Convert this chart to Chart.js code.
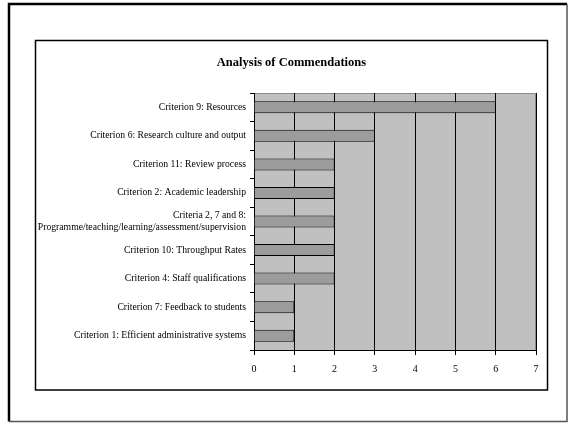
<!DOCTYPE html>
<html>
<head>
<meta charset="utf-8">
<script src="https://cdn.jsdelivr.net/npm/chart.js@4"></script>
<style>
  html, body { margin: 0; padding: 0; background: #ffffff; }
  #wrap { width: 568px; height: 424px; position: relative; }
</style>
</head>
<body>
<div id="wrap"><canvas id="c" width="568" height="424"></canvas></div>
<script>
// Commendations per criterion
const categories = [
  'Criterion 9: Resources',
  'Criterion 6: Research culture and output',
  'Criterion 11: Review process',
  'Criterion 2: Academic leadership',
  ['Criteria 2, 7 and 8:', 'Programme/teaching/learning/assessment/supervision'],
  'Criterion 10: Throughput Rates',
  'Criterion 4: Staff qualifications',
  'Criterion 7: Feedback to students',
  'Criterion 1: Efficient administrative systems'
];
const commendations = [6, 3, 2, 2, 2, 2, 2, 1, 1];
const xTicks = [0, 1, 2, 3, 4, 5, 6, 7];
const chartTitle = 'Analysis of Commendations';

const SERIF = '"Liberation Serif", "Times New Roman", serif';

// Page frames, chart heading and grey plot background
const framePlugin = {
  id: 'frames',
  beforeDraw(chart) {
    const ctx = chart.ctx;
    ctx.save();
    ctx.fillStyle = '#ffffff';
    ctx.fillRect(0, 0, chart.width, chart.height);
    // outer frame
    ctx.strokeStyle = '#000000';
    ctx.lineWidth = 2.5;
    ctx.beginPath();
    ctx.moveTo(9, 421.5);
    ctx.lineTo(9, 4);
    ctx.lineTo(567, 4);
    ctx.stroke();
    ctx.strokeStyle = '#555555';
    ctx.lineWidth = 1.5;
    ctx.beginPath();
    ctx.moveTo(567, 4);
    ctx.lineTo(567, 421.5);
    ctx.lineTo(9, 421.5);
    ctx.stroke();
    // inner frame
    ctx.strokeStyle = '#000000';
    ctx.lineWidth = 1.5;
    ctx.strokeRect(35.5, 40.5, 512, 349.5);
    // heading, centred in the inner frame
    ctx.fillStyle = '#000000';
    ctx.font = 'bold 12.5px ' + SERIF;
    ctx.textAlign = 'center';
    ctx.textBaseline = 'middle';
    ctx.fillText(chartTitle, 291.5, 62.5);
    // plot background
    const a = chart.chartArea;
    ctx.fillStyle = '#c0c0c0';
    ctx.fillRect(a.left, a.top, a.right - a.left, a.bottom - a.top);
    ctx.strokeStyle = '#8c8c8c';
    ctx.lineWidth = 1;
    ctx.beginPath();
    ctx.moveTo(a.left, a.top + 0.5);
    ctx.lineTo(a.right - 0.5, a.top + 0.5);
    ctx.lineTo(a.right - 0.5, a.bottom);
    ctx.stroke();
    ctx.restore();
  }
};

new Chart(document.getElementById('c'), {
  type: 'bar',
  data: {
    labels: categories,
    datasets: [{
      data: commendations,
      backgroundColor: '#9c9c9c',
      borderColor: '#000000',
      borderWidth: 1,
      categoryPercentage: 1,
      barPercentage: 0.42
    }]
  },
  options: {
    indexAxis: 'y',
    responsive: false,
    animation: false,
    devicePixelRatio: 1,
    layout: { padding: { left: 35, right: 32, top: 93, bottom: 44 } },
    plugins: {
      legend: { display: false },
      tooltip: { enabled: false },
      title: { display: false }
    },
    scales: {
      x: {
        min: 0,
        max: 7,
        afterBuildTicks(scale) {
          scale.ticks = xTicks.map(v => ({ value: v }));
        },
        afterFit(scale) { scale.height = 30; },
        grid: {
          color: '#000000',
          lineWidth: 1,
          drawOnChartArea: true,
          drawTicks: true,
          tickLength: 5,
          tickColor: '#000000'
        },
        border: { display: true, color: '#000000', width: 1 },
        ticks: {
          color: '#000000',
          font: { family: SERIF, size: 10 },
          padding: 8
        }
      },
      y: {
        afterFit(scale) { scale.width = 219; },
        grid: {
          offset: true,
          drawOnChartArea: false,
          drawTicks: true,
          tickLength: 4,
          tickColor: '#000000'
        },
        border: { display: true, color: '#000000', width: 1 },
        ticks: {
          color: '#000000',
          font: { family: SERIF, size: 9.7 },
          padding: 4,
          autoSkip: false
        }
      }
    }
  },
  plugins: [framePlugin]
});
</script>
</body>
</html>
